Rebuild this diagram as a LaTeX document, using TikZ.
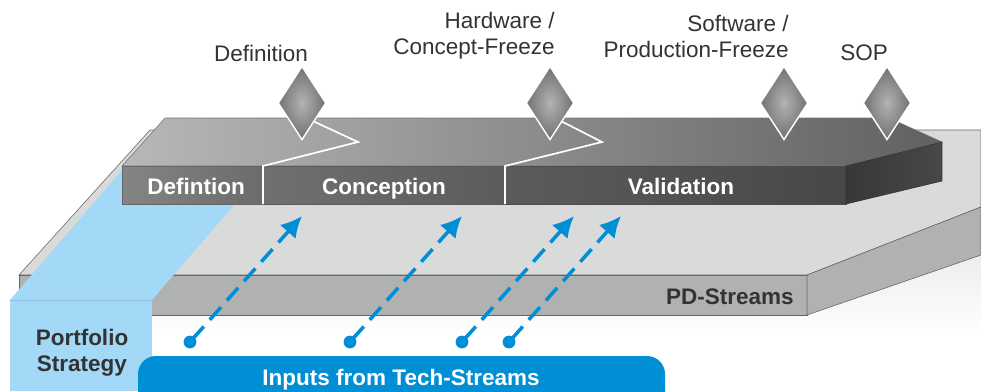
\documentclass[tikz,border=0pt]{standalone}
\usepackage{fontspec}
\setmainfont{Liberation Sans}
\usepackage{xcolor}
\usetikzlibrary{arrows.meta,shapes.geometric}
\definecolor{techblue}{RGB}{0, 142, 212}
\definecolor{paleblue}{RGB}{163, 216, 247}
\definecolor{slabtop}{RGB}{217, 219, 219}
\definecolor{slabfront}{RGB}{176, 177, 177}
\definecolor{labelgray}{RGB}{51, 51, 51}
\tikzset{
  milestone/.style={diamond, draw=white, line width=1pt, aspect=.65, inner sep=0pt,
    minimum width=1.2cm, minimum height=1.84cm, inner color=black!30, outer color=black!56},
  mslabel/.style={font=\fontsize{16}{18.5}\selectfont, text=labelgray, align=right, inner sep=0pt},
  phaselabel/.style={font=\fontsize{16}{18.5}\selectfont\bfseries, text=white, inner sep=0pt, anchor=base},
  darklabel/.style={font=\fontsize{16}{18.5}\selectfont\bfseries, text=labelgray, align=center, inner sep=0pt},
  inputdot/.style={circle, fill=techblue, inner sep=0pt, minimum size=.32cm},
  inputarrow/.style={draw=techblue, line width=2.5pt, dash pattern=on 12pt off 6.4pt,
    -{Latex[length=15pt,width=15pt]}, shorten <=-2pt},
  freeze/.style={draw=white, line width=1.2pt}
}
\begin{document}
\begin{tikzpicture}[x=.025cm,y=-.025cm]
  \clip (0,0) rectangle (981,391);

  % floor shadow
  \shade[top color=black!7, bottom color=white] (153,315) -- (807,315) -- (981,255) -- (981,335) -- (153,335) -- cycle;

  % PD slab
  \draw[draw=black!60, fill=slabtop] (150,130) -- (981,130) -- (981,207) -- (807,275) -- (19,275) -- cycle;
  \draw[draw=black!60, fill=slabfront] (19,275) rectangle (807,315);
  \draw[draw=black!60, fill=slabfront] (807,275) -- (981,207) -- (981,255) -- (807,315) -- cycle;

  % portfolio strip
  \fill[paleblue] (10,300) -- (122,170) -- (122,204) -- (235,204) -- (152,300) -- cycle;
  \fill[paleblue] (10,300) rectangle (152,391);
  \draw[paleblue!88!black, line width=.5pt] (10,300) -- (152,300);

  % phase slab
  \shade[draw=black!55, left color=black!28, right color=black!62] (165,118) -- (889,118) -- (942,142) -- (846,166) -- (122,166) -- cycle;
  \shade[draw=black!60, left color=black!48, right color=black!58] (122,166) rectangle (263,204);
  \shade[draw=black!65, left color=black!56, right color=black!64] (263,166) rectangle (505,204);
  \shade[draw=black!70, left color=black!64, right color=black!72] (505,166) rectangle (846,204);
  \shade[draw=black!80, left color=black!78, right color=black!72] (846,166) -- (942,142) -- (942,181) -- (846,204) -- cycle;

  % milestones
  \node[milestone] (msdef) at (302,103) {};
  \node[milestone] (mshw) at (550,103) {};
  \node[milestone] (mssw) at (784,103) {};
  \node[milestone] (mssop) at (887,103) {};

  \coordinate (foota) at (263,204);
  \coordinate (topa) at (263,166);
  \coordinate (benda) at (358,142);
  \coordinate (footb) at (505,204);
  \coordinate (topb) at (505,166);
  \coordinate (bendb) at (602,142);
  \draw[freeze] (foota) -- (topa) -- (benda) -- (msdef.south east);
  \draw[freeze] (footb) -- (topb) -- (bendb) -- (mshw.south east);

  % tech inputs
  \node[inputdot] (ina) at (190,342) {};
  \node[inputdot] (inb) at (350,342) {};
  \node[inputdot] (inc) at (462,342) {};
  \node[inputdot] (ind) at (509,342) {};
  \coordinate (tipa) at (302,216);
  \coordinate (tipb) at (462,216);
  \coordinate (tipc) at (574,216);
  \coordinate (tipd) at (621,216);
  \draw[inputarrow] (ina) -- (tipa);
  \draw[inputarrow] (inb) -- (tipb);
  \draw[inputarrow] (inc) -- (tipc);
  \draw[inputarrow] (ind) -- (tipd);

  \fill[techblue, rounded corners=.45cm] (138,356) rectangle (665,420);

  % texts
  \node[mslabel] (lbdef) at (261,53) {Definition};
  \node[mslabel, anchor=east] (lbhw) at (555,36) {Hardware /\\Concept-Freeze};
  \node[mslabel, anchor=east] (lbsw) at (789,36) {Software /\\Production-Freeze};
  \node[mslabel] (lbsop) at (864,53) {SOP};
  \node[phaselabel] (phdef) at (196,194) {Defintion};
  \node[phaselabel] (phcon) at (384,194) {Conception};
  \node[phaselabel] (phval) at (681,194) {Validation};
  \node[darklabel, anchor=base] (lbpd) at (730,304) {PD-Streams};
  \node[darklabel] (lbpf) at (82,353) {Portfolio\\Strategy};
  \node[phaselabel] (lbin) at (401,385) {Inputs from Tech-Streams};
\end{tikzpicture}
\end{document}
